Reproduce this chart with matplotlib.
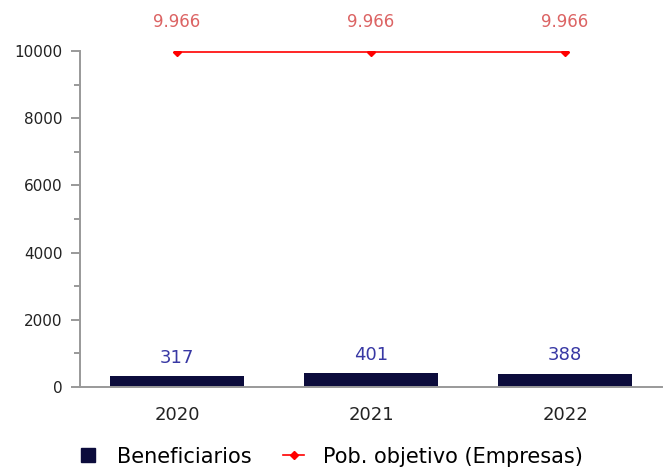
import matplotlib
matplotlib.use("Agg")
import matplotlib.pyplot as plt
from matplotlib.lines import Line2D
from matplotlib.ticker import MultipleLocator
import numpy as np

years = ["2020", "2021", "2022"]
beneficiarios = [317, 401, 388]
pob_objetivo = [9966, 9966, 9966]
pob_labels = ["9.966", "9.966", "9.966"]

BAR_COLOR = "#0c0c3c"
BAR_TEXT = "#3838a4"
LINE_COLOR = "#ff0000"
LINE_TEXT = "#dc6464"
AXIS_GRAY = "#999999"

fig = plt.figure(figsize=(6.67, 4.69), dpi=100)
ax = fig.add_axes([0.12, 0.175, 0.8725, 0.716])

x = np.arange(len(years))
ax.bar(x, beneficiarios, width=0.69, color=BAR_COLOR)
ax.plot(x, pob_objetivo, color=LINE_COLOR, linewidth=1.2, marker="D",
        markersize=4.5)

for xi, v in zip(x, beneficiarios):
    ax.annotate(str(v), (xi, v), xytext=(0, 7), textcoords="offset points",
                ha="center", va="bottom", fontsize=13, color=BAR_TEXT)
for xi, v, s in zip(x, pob_objetivo, pob_labels):
    ax.annotate(s, (xi, v), xytext=(0, 15), textcoords="offset points",
                ha="center", va="bottom", fontsize=12, color=LINE_TEXT)

ax.set_xlim(-0.5, 2.5)
ax.set_ylim(0, 10000)
ax.set_xticks(x)
ax.set_xticklabels(years)
ax.yaxis.set_major_locator(MultipleLocator(2000))
ax.yaxis.set_minor_locator(MultipleLocator(1000))
ax.tick_params(axis="x", length=0, pad=14, labelsize=13, colors="#222222")
ax.tick_params(axis="y", which="major", length=6.5, width=1.4, color=AXIS_GRAY,
               pad=6, labelsize=11, labelcolor="#222222")
ax.tick_params(axis="y", which="minor", length=4.5, width=1.4, color=AXIS_GRAY)

for side in ["top", "right"]:
    ax.spines[side].set_visible(False)
for side in ["left", "bottom"]:
    ax.spines[side].set_color(AXIS_GRAY)
    ax.spines[side].set_linewidth(1.4)

handles = [
    Line2D([], [], linestyle="none", marker="s", markersize=10,
           color=BAR_COLOR),
    Line2D([], [], color=LINE_COLOR, linewidth=1.2, marker="D", markersize=4),
]
fig.legend(handles, ["Beneficiarios", "Pob. objetivo (Empresas)"],
           loc="lower center", bbox_to_anchor=(0.495, -0.035), ncol=2,
           frameon=False, fontsize=15, handlelength=1.0, columnspacing=1.5,
           handletextpad=0.9)

fig.savefig("out.png", dpi=100)
